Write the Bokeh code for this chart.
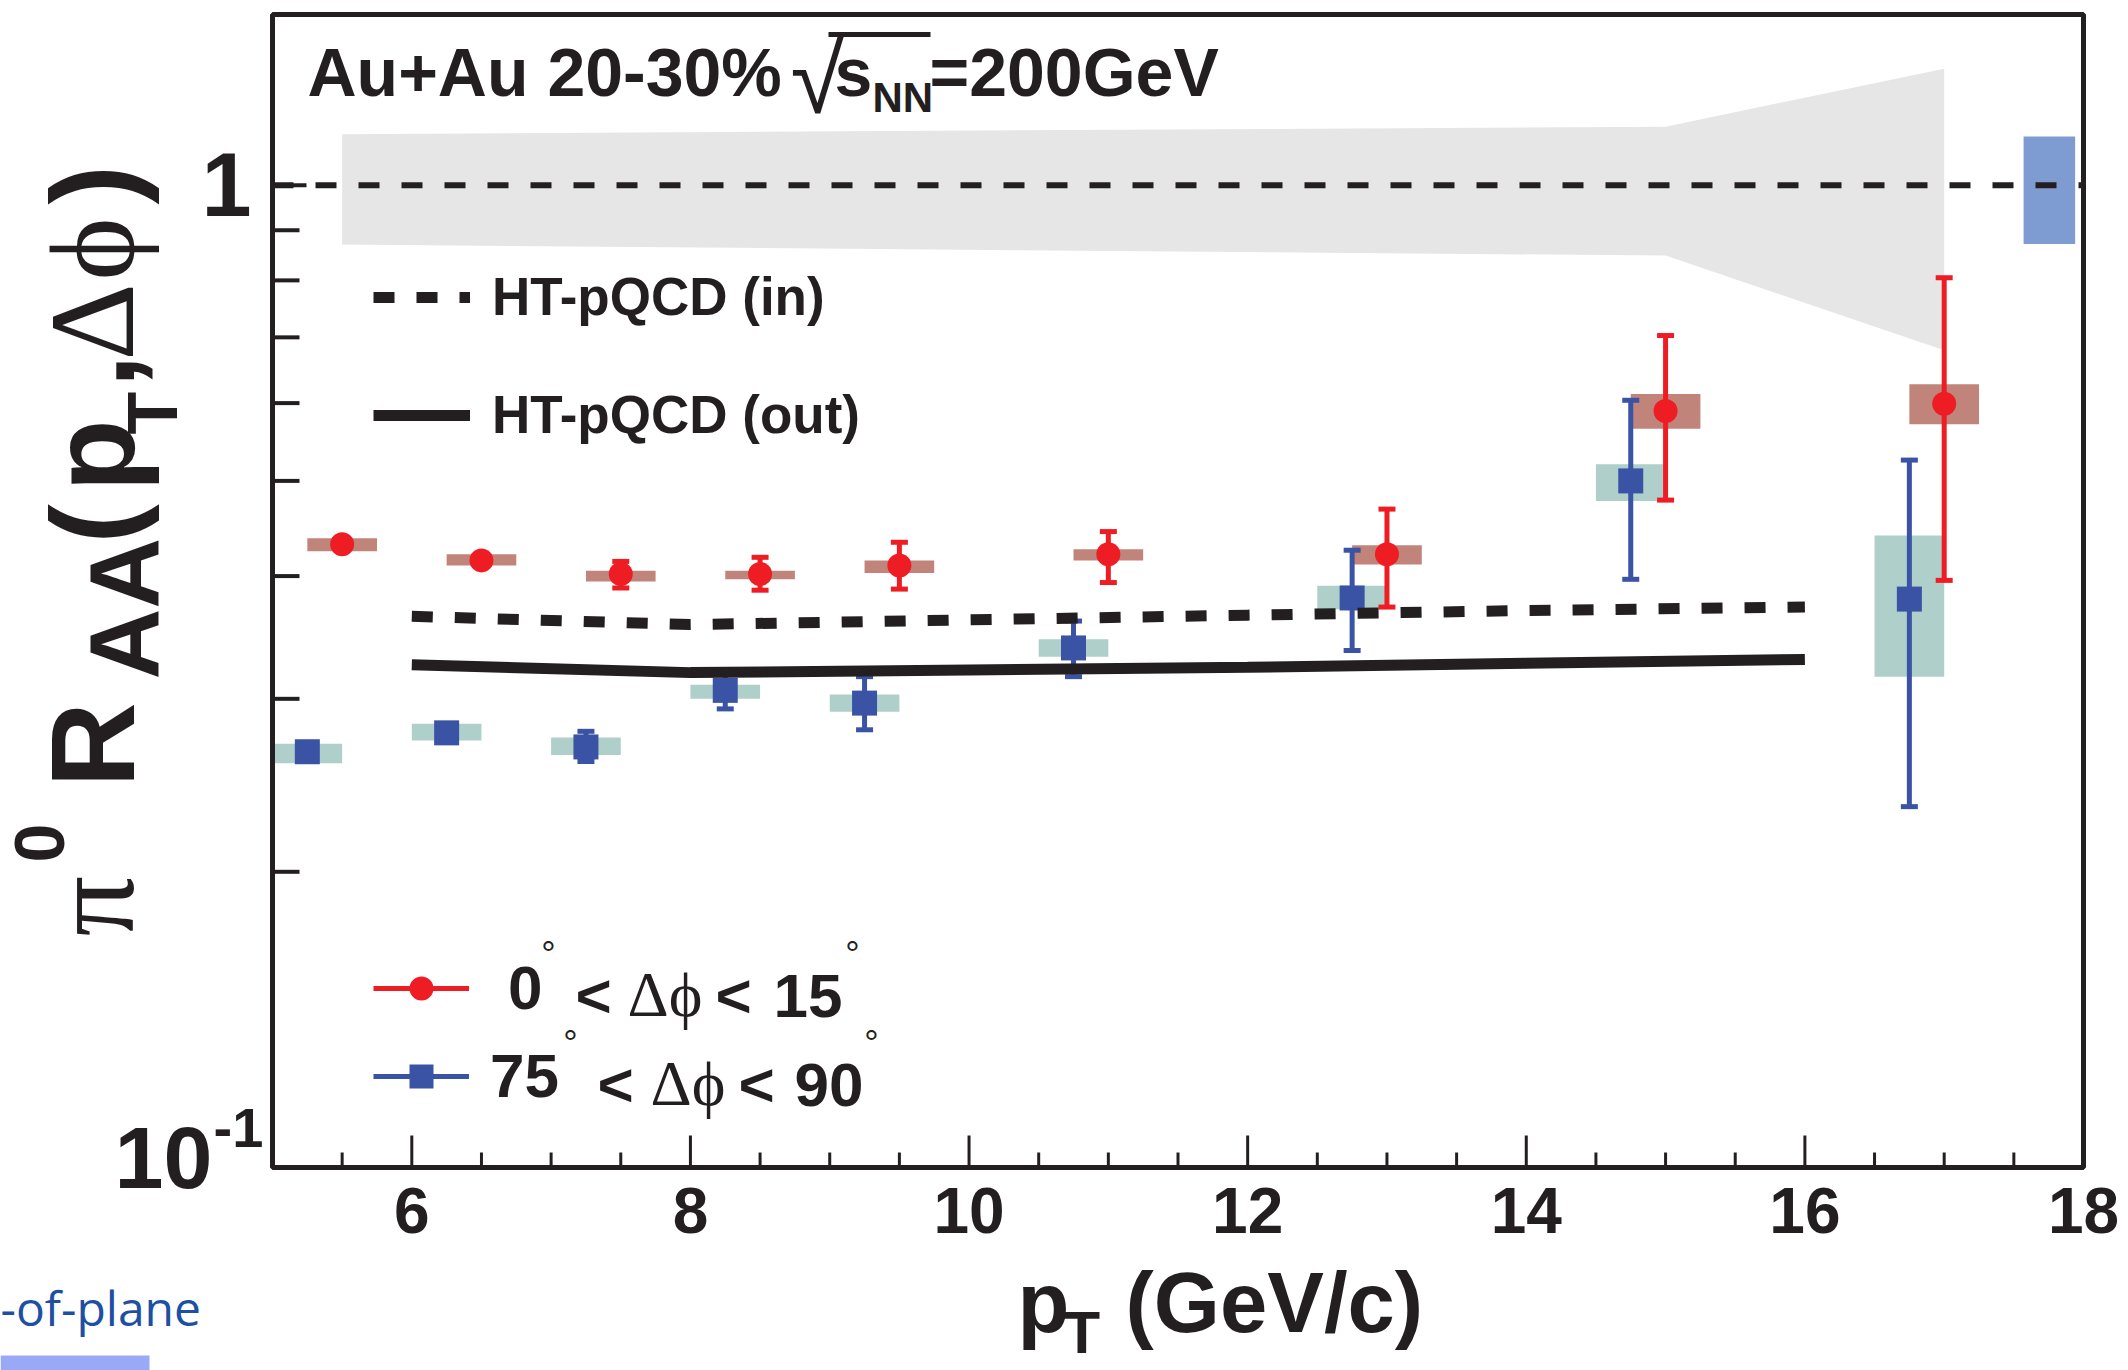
import math
from bokeh.plotting import figure
from bokeh.models import (ColumnDataSource, Label, Legend, LegendItem, Range1d, LogScale)
from bokeh.embed import file_html
from bokeh.resources import INLINE

# ---------------- data ----------------
# 0 < dphi < 15 deg (in-plane), red circles
red_pt = [5.5, 6.5, 7.5, 8.5, 9.5, 11.0, 13.0, 15.0, 17.0]
red_raa = [0.431, 0.415, 0.402, 0.402, 0.410, 0.421, 0.421, 0.589, 0.599]
red_err_lo = [0.428, 0.412, 0.389, 0.387, 0.388, 0.394, 0.372, 0.478, 0.396]
red_err_hi = [0.434, 0.418, 0.414, 0.418, 0.433, 0.444, 0.468, 0.703, 0.805]
red_sys_lo = [0.424, 0.410, 0.395, 0.397, 0.403, 0.415, 0.411, 0.565, 0.571]
red_sys_hi = [0.437, 0.421, 0.405, 0.405, 0.415, 0.426, 0.430, 0.613, 0.627]

# 75 < dphi < 90 deg (out-of-plane), blue squares
blue_pt = [5.25, 6.25, 7.25, 8.25, 9.25, 10.75, 12.75, 14.75, 16.75]
blue_raa = [0.265, 0.277, 0.268, 0.306, 0.297, 0.338, 0.380, 0.500, 0.379]
blue_err_lo = [0.262, 0.274, 0.259, 0.293, 0.279, 0.316, 0.336, 0.397, 0.233]
blue_err_hi = [0.268, 0.280, 0.278, 0.318, 0.316, 0.360, 0.425, 0.604, 0.525]
blue_sys_lo = [0.258, 0.272, 0.263, 0.300, 0.291, 0.331, 0.370, 0.477, 0.316]
blue_sys_hi = [0.270, 0.283, 0.274, 0.310, 0.303, 0.345, 0.391, 0.520, 0.440]

# HT-pQCD calculations
theory_pt = [6, 8, 10, 12, 14, 16]
ht_in = [0.364, 0.357, 0.361, 0.365, 0.369, 0.372]
ht_out = [0.325, 0.319, 0.321, 0.323, 0.326, 0.329]

# grey uncertainty band around unity
band_pt = [5.5, 15.0, 17.0]
band_lo = [0.870, 0.848, 0.679]
band_hi = [1.127, 1.147, 1.314]

# global normalisation uncertainty box
norm_lo, norm_hi = 0.871, 1.121
norm_pt_lo, norm_pt_hi = 17.57, 17.94

x_major = [6, 8, 10, 12, 14, 16, 18]
x_minor = [5.5, 6.5, 7, 7.5, 8.5, 9, 9.5, 10.5, 11, 11.5, 12.5, 13, 13.5,
           14.5, 15, 15.5, 16.5, 17, 17.5]
y_major = [1.0]
y_minor = [0.2, 0.3, 0.4, 0.5, 0.6, 0.7, 0.8, 0.9]

# ---------------- styling ----------------
# (font sizes avoid 100/200/... px: the svg font parser reads those as weights)
INK = "#231F20"
RED = "#EE1D23"
RED_SYS = "#C1847B"
BLUE = "#3A53A5"
BLUE_SYS = "#AFCFCA"
BAND = "#E6E6E6"
NORM = "#7F9CD2"
SANS = "Liberation Sans"
SERIF = "Liberation Serif"
HALF_BOX = 0.25
KB = 0.37        # label anchor sits this many em above the baseline

W, H = 2128, 1370
FL, FR, FT, FB = 272, 2083, 14, 1167   # axes box edges in page pixels
XMIN, XMAX = 5.0, 18.0
YMIN, YMAX = 0.1, 1.492

def dx(px):
    return XMIN + (px - FL) * (XMAX - XMIN) / (FR - FL)

def dy(py):
    lo, hi = math.log10(YMIN), math.log10(YMAX)
    return 10 ** (hi - (py - FT) * (hi - lo) / (FB - FT))

# the drawing area covers the whole page so that every text can sit in it
p = figure(width=W, height=H, x_range=Range1d(dx(0), dx(W)), y_range=Range1d(dy(H), dy(0)),
           y_axis_type="log", x_axis_location=None, y_axis_location=None,
           output_backend="svg", toolbar_location=None, min_border=0)
p.y_scale = LogScale()
p.background_fill_color = "white"
p.border_fill_color = "white"
p.outline_line_color = None
for g in p.grid:
    g.visible = False
    g.grid_line_color = None

# ---------------- glyphs ----------------
p.varea(x=band_pt, y1=band_lo, y2=band_hi, fill_color=BAND)
p.quad(left=[norm_pt_lo], right=[norm_pt_hi], bottom=[norm_lo], top=[norm_hi],
       fill_color=NORM, line_color=None)
p.segment(x0=[XMIN], y0=[1.0], x1=[XMAX], y1=[1.0], line_color=INK,
          line_width=6, line_dash="21 22")

red = ColumnDataSource(dict(
    x=red_pt, y=red_raa, lo=red_err_lo, hi=red_err_hi,
    sl=red_sys_lo, sh=red_sys_hi,
    l=[v - HALF_BOX for v in red_pt], r=[v + HALF_BOX for v in red_pt]))
blue = ColumnDataSource(dict(
    x=blue_pt, y=blue_raa, lo=blue_err_lo, hi=blue_err_hi,
    sl=blue_sys_lo, sh=blue_sys_hi,
    l=[v - HALF_BOX for v in blue_pt], r=[v + HALF_BOX for v in blue_pt]))

p.quad(left="l", right="r", bottom="sl", top="sh", source=blue,
       fill_color=BLUE_SYS, line_color=None)
p.quad(left="l", right="r", bottom="sl", top="sh", source=red,
       fill_color=RED_SYS, line_color=None)

blue_bar = p.segment(x0="x", y0="lo", x1="x", y1="hi", source=blue,
                     line_color=BLUE, line_width=5)
p.scatter(x="x", y="lo", source=blue, marker="dash", size=17,
          line_color=BLUE, line_width=5)
p.scatter(x="x", y="hi", source=blue, marker="dash", size=17,
          line_color=BLUE, line_width=5)
red_bar = p.segment(x0="x", y0="lo", x1="x", y1="hi", source=red,
                    line_color=RED, line_width=5)
p.scatter(x="x", y="lo", source=red, marker="dash", size=17,
          line_color=RED, line_width=5)
p.scatter(x="x", y="hi", source=red, marker="dash", size=17,
          line_color=RED, line_width=5)

blue_pts = p.scatter(x="x", y="y", source=blue, marker="square", size=25,
                     fill_color=BLUE, line_color=BLUE, line_width=0)
red_pts = p.scatter(x="x", y="y", source=red, marker="circle", size=24,
                    fill_color=RED, line_color=RED, line_width=0)

r_in = p.line(theory_pt, ht_in, line_color=INK, line_width=11, line_dash="21 22")
r_out = p.line(theory_pt, ht_out, line_color=INK, line_width=11)

# ---------------- axes box and ticks (ticks point inward) ----------------
p.segment(x0=x_major, y0=[YMIN] * len(x_major), x1=x_major,
          y1=[dy(FB - 32)] * len(x_major), line_color=INK, line_width=3)
p.segment(x0=x_minor, y0=[YMIN] * len(x_minor), x1=x_minor,
          y1=[dy(FB - 15)] * len(x_minor), line_color=INK, line_width=3)
p.segment(x0=[XMIN] * len(y_major), y0=y_major, x1=[dx(FL + 34)] * len(y_major),
          y1=y_major, line_color=INK, line_width=4)
p.segment(x0=[XMIN] * len(y_minor), y0=y_minor, x1=[dx(FL + 27)] * len(y_minor),
          y1=y_minor, line_color=INK, line_width=4)
p.quad(left=[XMIN], right=[XMAX], bottom=[YMIN], top=[YMAX], fill_color=None,
       line_color=INK, line_width=5)

# overline of the square root in the header
p.segment(x0=[dx(828)], y0=[dy(34)], x1=[dx(930)], y1=[dy(34)],
          line_color=INK, line_width=5)

# slide remnant at the bottom-left corner
p.quad(left=[dx(0)], right=[dx(149)], bottom=[dy(H)], top=[dy(1355)],
       fill_color="#9AA9F5", line_color=None)

# ---------------- legends ----------------
def make_legend(items, loc, gw, gh, standoff, spacing, fsize, lh):
    lg = Legend(items=items, location=loc, glyph_width=gw, glyph_height=gh,
                label_standoff=standoff, spacing=spacing, padding=0, margin=0,
                label_height=lh, border_line_alpha=0, background_fill_alpha=0,
                label_text_font=SANS, label_text_font_style="bold",
                label_text_font_size=fsize, label_text_color=INK)
    p.add_layout(lg)
    return lg

make_legend([LegendItem(label="HT-pQCD (in)", renderers=[r_in]),
             LegendItem(label="HT-pQCD (out)", renderers=[r_out])],
            (373, H - 445), 97, 60, 22, 57, "53px", 60)
make_legend([LegendItem(label="0", renderers=[red_bar, red_pts])],
            (373, H - 1023), 96, 60, 39, 0, "62px", 60)
make_legend([LegendItem(label="75", renderers=[blue_bar, blue_pts])],
            (373, H - 1111), 96, 60, 21, 0, "62px", 60)

# ---------------- texts (px, py = start of the baseline in page pixels) ----------------
def lab(text, px, py, size, font=SANS, style="bold", align="left", rotated=False,
        color=INK, xdata=None):
    if rotated:
        ax, ay, ang = px - KB * size, py, math.pi / 2
    else:
        ax, ay, ang = px, py - KB * size, 0.0
    p.add_layout(Label(x=dx(ax) if xdata is None else xdata, y=dy(ay), text=text,
                       text_font=font, text_font_size=f"{size}px",
                       text_font_style=style, text_align=align,
                       text_baseline="alphabetic", angle=ang, text_color=color))

# header
lab("Au+Au 20-30%", 307, 97, 68)
lab("\u221a", 790, 115, 98, style="normal")
lab("s", 834, 97, 68)
lab("NN", 872, 113, 42)
lab("=200GeV", 929, 97, 68)

# legend text pieces
for base, parts in ((1018, [("<", 575, SANS, "bold"), ("\u0394\u03d5", 627, SERIF, "normal"),
                            ("<", 715, SANS, "bold"), ("15", 773, SANS, "bold")]),
                    (1107, [("<", 597, SANS, "bold"), ("\u0394\u03d5", 650, SERIF, "normal"),
                            ("<", 738, SANS, "bold"), ("90", 794, SANS, "bold")])):
    for t, px, f, st in parts:
        lab(t, px, base, 64 if f == SERIF else 62, font=f, style=st)
for cx, cy in ((548, 946), (852, 946), (570, 1035), (871, 1035)):
    lab("\u00b0", cx, cy + 21, 36, style="normal", align="center")

# tick labels
for t in x_major:
    lab(str(t), 0, 1234, 64, align="center", xdata=t)
lab("1", 251, 217, 90, align="right")
lab("10", 212, 1190, 88, align="right")
lab("-1", 213, 1148, 56)

# y axis title, rotated
for t, start, base, size, font, st in [
        ("\u03c0", 936, 136, 120, SERIF, "normal"),
        ("0", 862, 65, 70, SANS, "bold"),
        ("R", 787, 136, 118, SANS, "bold"),
        ("AA", 679, 160, 98, SANS, "bold"),
        ("(", 543, 136, 118, SANS, "bold"),
        ("p", 491, 136, 118, SANS, "bold"),
        ("T", 434, 178, 70, SANS, "bold"),
        (",", 387, 136, 118, SANS, "bold"),
        ("\u0394", 360, 136, 120, SERIF, "normal"),
        ("\u03d5", 280, 136, 120, SERIF, "normal"),
        (")", 204, 136, 118, SANS, "bold")]:
    lab(t, base, start, size, font=font, style=st, rotated=True)

# x axis title
lab("p", 1017, 1333, 85)
lab("T", 1063, 1354, 60)
lab("(GeV/c)", 1125, 1333, 85)

# slide remnant text
lab("-of-plane", 0, 1325, 48, font="Open Sans", style="normal", color="#1D4FA3")

open("out.html", "w").write(file_html(p, INLINE))
